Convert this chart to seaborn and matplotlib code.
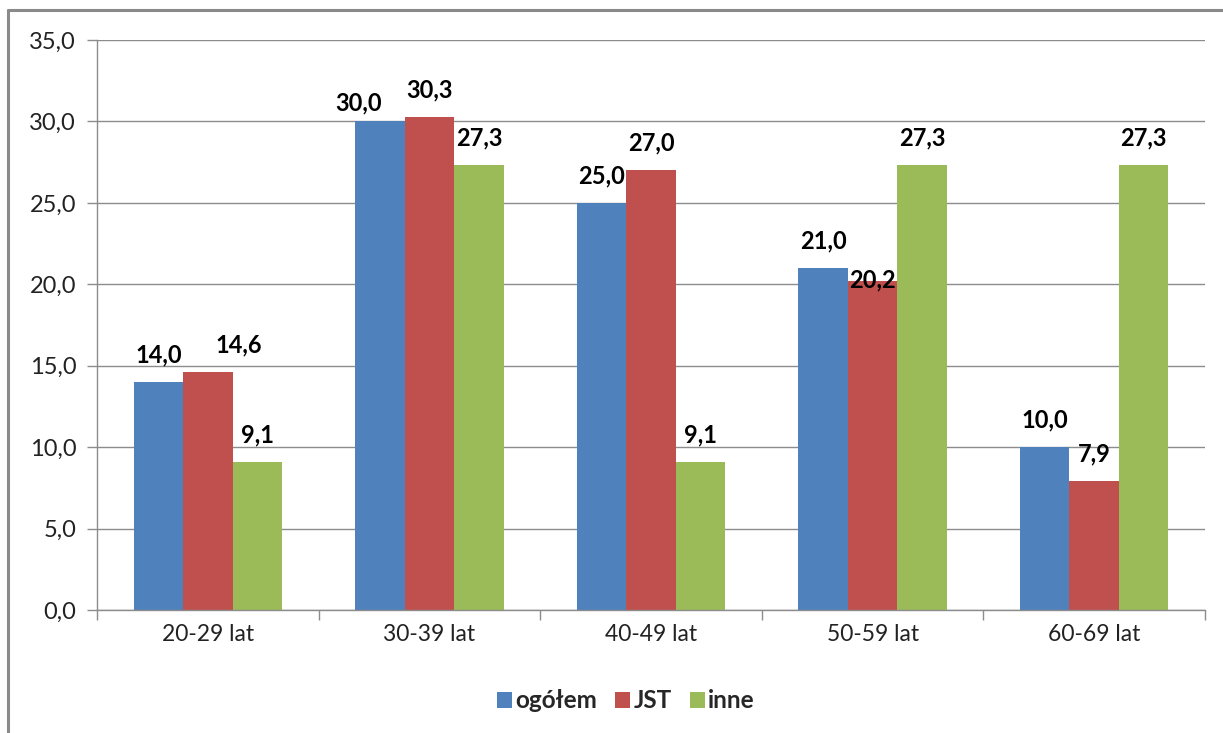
import numpy as np
import pandas as pd
import matplotlib
matplotlib.use("Agg")
import matplotlib.pyplot as plt
import seaborn as sns
from matplotlib.lines import Line2D
from matplotlib.patches import Patch

categories = ["20-29 lat", "30-39 lat", "40-49 lat", "50-59 lat", "60-69 lat"]
series = ["ogółem", "JST", "inne"]
ogolem = [14.0, 30.0, 25.0, 21.0, 10.0]
jst = [14.6, 30.3, 27.0, 20.2, 7.9]
inne = [9.1, 27.3, 9.1, 27.3, 27.3]
colors = ["#4F81BD", "#C0504D", "#9BBB59"]
yticks = np.arange(0, 35.1, 5)

df = pd.DataFrame({
    "grupa": categories * 3,
    "seria": [s for s in series for _ in categories],
    "wartosc": ogolem + jst + inne,
})

sns.set_theme(style="white")
plt.rcParams["font.family"] = ["Lato", "DejaVu Sans"]

fig = plt.figure(figsize=(12.23, 7.33), dpi=100)
ax = fig.add_axes([97 / 1223, 123 / 733, 1108 / 1223, 570 / 733])

sns.barplot(data=df, x="grupa", y="wartosc", hue="seria", order=categories,
            hue_order=series, palette=colors, width=0.67, gap=0,
            saturation=1, linewidth=0, ax=ax, legend=False)

ax.set_xlim(-0.5, len(categories) - 0.5)
ax.set_ylim(0, 35)
ax.set_yticks(yticks)
ax.set_yticklabels([f"{v:.1f}".replace(".", ",") for v in yticks], fontsize=17, color="#222222")
ax.yaxis.grid(True, color="#8c8c8c", linewidth=1.0)
ax.set_axisbelow(True)
ax.set_xlabel("")
ax.set_ylabel("")
ax.tick_params(axis="x", labelsize=16.5, labelcolor="#222222", length=0, pad=10)
ax.tick_params(axis="y", length=7, width=1, color="#8c8c8c", direction="out", left=True, pad=8)
for side in ["top", "right"]:
    ax.spines[side].set_visible(False)
for side in ["left", "bottom"]:
    ax.spines[side].set_color("#8c8c8c")
    ax.spines[side].set_linewidth(1.0)

# category separator ticks on the x axis
ax.set_xticks(np.arange(-0.5, len(categories)), minor=True)
ax.tick_params(axis="x", which="minor", length=7, width=1, color="#8c8c8c", bottom=True)

# data labels (Excel nudged a few of them to avoid overlaps)
for cont, vals in zip(ax.containers, [ogolem, jst, inne]):
    for bar, v in zip(cont, vals):
        cx = bar.get_x() + bar.get_width() / 2
        dx, dy = 0, 27
        if v == 20.2:
            dy = 1
        elif v == 30.0:
            dx, dy = -21, 19
        elif v == 14.6:
            dx = 31
        ax.annotate(f"{v:.1f}".replace(".", ","), (cx, v), xytext=(dx, dy),
                    textcoords="offset pixels", ha="center", va="center",
                    fontsize=17, fontweight="bold", color="black")

handles = [Patch(facecolor=c, edgecolor="none") for c in colors]
fig.legend(handles, series, loc="center", bbox_to_anchor=(626 / 1223, 1 - 701 / 733),
           ncol=3, frameon=False, handlelength=0.6, handleheight=0.6,
           handletextpad=0.15, columnspacing=0.75,
           prop={"size": 17.5, "weight": "bold"})

# outer chart frame (partly cut off on the right/bottom)
fig.add_artist(Line2D([8 / 1223, 8 / 1223], [0, 1 - 10 / 733], color="#8a8a8a", linewidth=2.2))
fig.add_artist(Line2D([8 / 1223, 1], [1 - 10 / 733, 1 - 10 / 733], color="#8a8a8a", linewidth=2.2))

fig.savefig("out.png", dpi=100)
